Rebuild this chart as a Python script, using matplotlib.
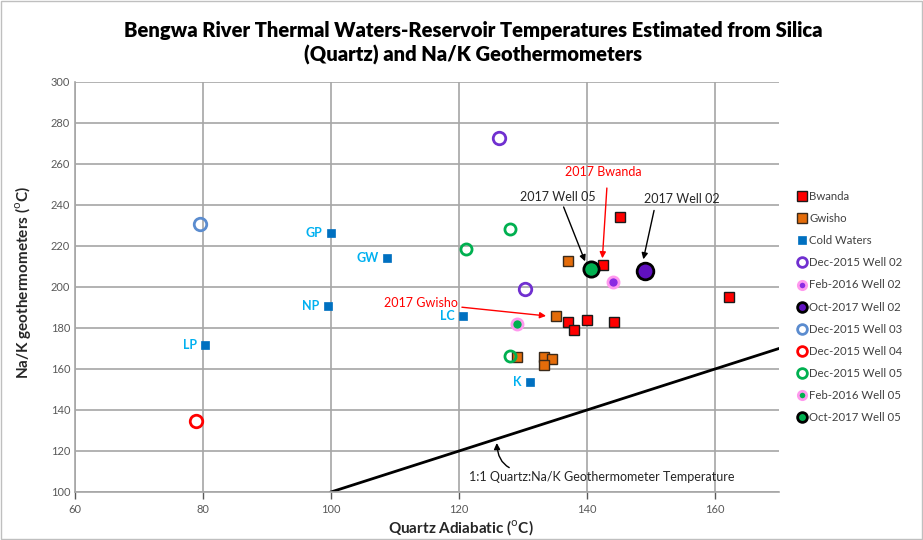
import matplotlib.pyplot as plt
from matplotlib.lines import Line2D
from matplotlib.patches import Rectangle

plt.rcParams["font.family"] = ["Lato", "DejaVu Sans"]

# data (Quartz adiabatic temp, Na/K temp)
bwanda_x = [145.2, 142.5, 162.2, 137.0, 138.0, 140.0, 144.2]
bwanda_y = [234.1, 210.7, 195.1, 182.9, 179.0, 183.9, 182.9]

gwisho_x = [137.0, 135.2, 129.1, 133.2, 134.5, 133.3]
gwisho_y = [212.8, 185.7, 165.9, 166.0, 164.9, 162.0]

cold_names = ["GP", "GW", "NP", "LC", "LP", "K"]
cold_x = [100.0, 108.8, 99.5, 120.6, 80.3, 131.1]
cold_y = [226.3, 214.1, 190.7, 185.9, 171.7, 153.7]

w02_dec15_x = [126.3, 130.3]
w02_dec15_y = [272.7, 199.0]
w02_feb16_x = [144.1]
w02_feb16_y = [202.3]
w02_oct17_x = [149.1]
w02_oct17_y = [208.0]
w03_dec15_x = [79.6]
w03_dec15_y = [230.6]
w04_dec15_x = [78.9]
w04_dec15_y = [134.8]
w05_dec15_x = [127.9, 121.1, 127.9]
w05_dec15_y = [228.4, 218.4, 166.3]
w05_feb16_x = [129.1]
w05_feb16_y = [181.8]
w05_oct17_x = [140.7]
w05_oct17_y = [208.6]

line_x = [100, 170]

# marker styles: label, marker, face, edge, edge width, size on plot, size in legend
styles = [
    ("Bwanda", "s", "#FF0000", "#1a1a1a", 1.0, 7.5, 7),
    ("Gwisho", "s", "#E46C0A", "#3a2a1a", 1.0, 7.5, 7),
    ("Cold Waters", "s", "#0070C0", "#0070C0", 0.5, 6, 6),
    ("Dec-2015 Well 02", "o", "none", "#7030D0", 2.0, 9, 7),
    ("Feb-2016 Well 02", "o", "#8A2BE2", "#FF99EE", 2.0, 8, 6),
    ("Oct-2017 Well 02", "o", "#6010C0", "black", 2.0, 12, 7),
    ("Dec-2015 Well 03", "o", "none", "#5B8CCF", 2.0, 9, 7),
    ("Dec-2015 Well 04", "o", "none", "#FF0000", 2.0, 9, 7),
    ("Dec-2015 Well 05", "o", "none", "#00B050", 2.0, 8, 7),
    ("Feb-2016 Well 05", "o", "#00B050", "#FF99EE", 2.0, 8, 6),
    ("Oct-2017 Well 05", "o", "#00B050", "black", 2.0, 11, 7),
]
series = [
    (bwanda_x, bwanda_y), (gwisho_x, gwisho_y), (cold_x, cold_y),
    (w02_dec15_x, w02_dec15_y), (w02_feb16_x, w02_feb16_y), (w02_oct17_x, w02_oct17_y),
    (w03_dec15_x, w03_dec15_y), (w04_dec15_x, w04_dec15_y),
    (w05_dec15_x, w05_dec15_y), (w05_feb16_x, w05_feb16_y), (w05_oct17_x, w05_oct17_y),
]

fig = plt.figure(figsize=(9.23, 5.4), dpi=100)
ax = fig.add_axes([0.0813, 0.0889, 0.7627, 0.7593])

ax.plot(line_x, line_x, color="black", lw=2, zorder=2)

handles = []
for (lab, m, fc, ec, ew, ms, lms), (xs, ys) in zip(styles, series):
    ax.plot(xs, ys, ls="none", marker=m, mfc=fc, mec=ec, mew=ew, ms=ms, zorder=3)
    handles.append(Line2D([], [], ls="none", marker=m, mfc=fc, mec=ec, mew=ew, ms=lms, label=lab))

for name, x, y in zip(cold_names, cold_x, cold_y):
    ax.annotate(name, (x, y), xytext=(-6, 0), textcoords="offset points",
                ha="right", va="center", color="#00B0F0", fontsize=9, fontweight="bold")

ax.set_xlim(60, 170)
ax.set_ylim(100, 300)
ax.set_xticks(range(60, 161, 20))
ax.set_yticks(range(100, 301, 20))
ax.tick_params(labelsize=8, colors="#595959", length=5, direction="out", width=1)
ax.tick_params(axis="y", length=0)
ax.grid(color="#a6a6a6", lw=1.2)
ax.set_axisbelow(True)
for s in ["top", "right"]:
    ax.spines[s].set_visible(False)
for s in ["left", "bottom"]:
    ax.spines[s].set_color("#a6a6a6")
    ax.spines[s].set_linewidth(1.2)

ax.set_xlabel(r"Quartz Adiabatic ($^{\mathrm{o}}$C)", fontsize=11, fontweight="bold", color="#262626")
ax.set_ylabel(r"Na/K geothermometers ($^{\mathrm{o}}$C)", fontsize=11, fontweight="bold", color="#262626")
ax.xaxis.set_label_coords(0.548, -0.065)
ax.yaxis.set_label_coords(-0.06, 0.51)

fig.suptitle("Bengwa River Thermal Waters-Reservoir Temperatures Estimated from Silica\n"
             "(Quartz) and Na/K Geothermometers", x=0.513, y=0.962, fontsize=14.5,
             fontweight="heavy", linespacing=1.35)

# annotations
ax.annotate("2017 Bwanda", xy=(142.4, 214), xytext=(142.6, 253), color="#FF0000",
            fontsize=9, ha="center", va="bottom",
            arrowprops=dict(arrowstyle="-|>", color="#FF0000", lw=1, shrinkA=5, shrinkB=0,
                            relpos=(0.55, 0)))
ax.annotate("2017 Well 05", xy=(139.7, 212.5), xytext=(135.5, 241), color="#262626",
            fontsize=9, ha="center", va="bottom",
            arrowprops=dict(arrowstyle="-|>", color="black", lw=1, shrinkA=1, shrinkB=0,
                            relpos=(0.55, 0)))
ax.annotate("2017 Well 02", xy=(148.8, 213.5), xytext=(154.8, 240), color="#262626",
            fontsize=9, ha="center", va="bottom",
            arrowprops=dict(arrowstyle="-|>", color="black", lw=1, shrinkA=2, shrinkB=0,
                            relpos=(0.15, 0)))
ax.annotate("2017 Gwisho", xy=(133.6, 185.9), xytext=(119.8, 192.2), color="#FF0000",
            fontsize=9, ha="right", va="center",
            arrowprops=dict(arrowstyle="-|>", color="#FF0000", lw=1, shrinkA=1, shrinkB=0))
ax.annotate("1:1 Quartz:Na/K Geothermometer Temperature", xy=(125.9, 123.9), xytext=(142.3, 107.3),
            color="#262626", fontsize=9, ha="center", va="center",
            arrowprops=dict(arrowstyle="-|>", color="black", lw=1, shrinkA=1, shrinkB=0,
                            connectionstyle="arc3,rad=-0.5", relpos=(0.22, 1.0)))

fig.legend(handles=handles, loc="upper left", bbox_to_anchor=(0.858, 0.655), frameon=False,
           fontsize=8.2, handletextpad=0.1, handlelength=1.0, labelspacing=0.98,
           borderaxespad=0, labelcolor="#404040")

fig.add_artist(Rectangle((0.001, 0.002), 0.998, 0.996, transform=fig.transFigure,
                         fill=False, edgecolor="#bfbfbf", lw=1))

fig.savefig("out.png", dpi=100)
